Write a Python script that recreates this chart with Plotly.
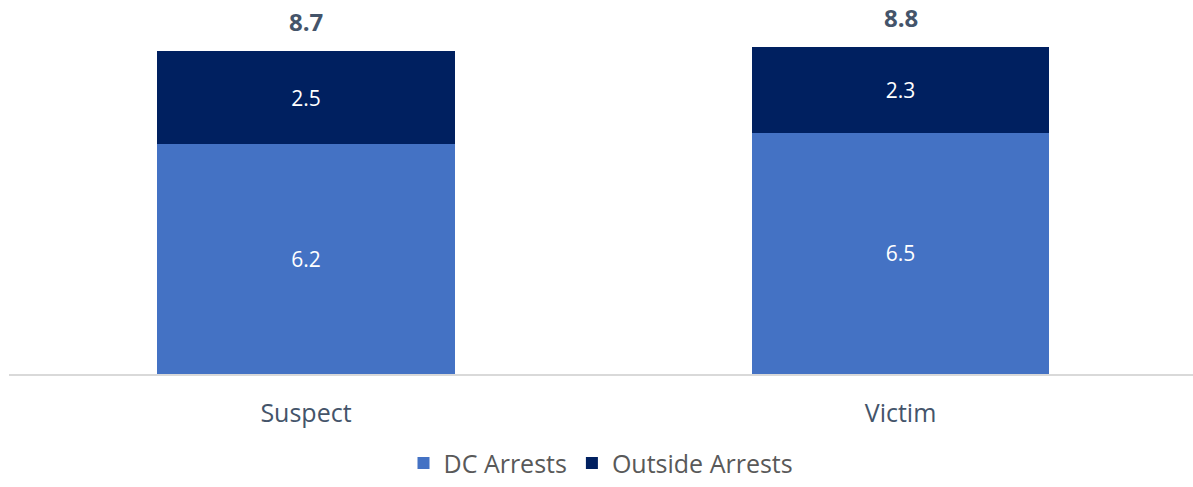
import plotly.graph_objects as go

categories = ["Suspect", "Victim"]
dc_arrests = [6.2, 6.5]
outside_arrests = [2.5, 2.3]
totals = [8.7, 8.8]

FONT = "Open Sans"

fig = go.Figure()
fig.add_trace(go.Bar(
    x=categories, y=dc_arrests, name="DC Arrests",
    marker=dict(color="#4472C4", line=dict(width=0)),
    text=[f"{v:.1f}" for v in dc_arrests], textposition="inside",
    insidetextanchor="middle", textangle=0,
    textfont=dict(color="white", size=21, family=FONT),
))
fig.add_trace(go.Bar(
    x=categories, y=outside_arrests, name="Outside Arrests",
    marker=dict(color="#002060", line=dict(width=0)),
    text=[f"{v:.1f}" for v in outside_arrests], textposition="inside",
    insidetextanchor="middle", textangle=0,
    textfont=dict(color="white", size=21, family=FONT),
))

for c, t in zip(categories, totals):
    fig.add_annotation(x=c, y=t, text=f"<b>{t:.1f}</b>", showarrow=False,
                       yanchor="bottom", yshift=11,
                       font=dict(size=24, color="#44546A", family=FONT))

fig.update_layout(
    width=1193, height=487,
    barmode="stack", bargap=0.5,
    margin=dict(l=9, r=0, t=17, b=113),
    plot_bgcolor="white", paper_bgcolor="white",
    showlegend=True,
    legend=dict(orientation="h", x=0.5, xanchor="center", y=-0.25, yanchor="middle",
                font=dict(size=25, color="#595959", family=FONT),
                traceorder="normal", itemwidth=30),
    xaxis=dict(showline=True, linecolor="#D9D9D9", linewidth=2, ticks="",
               range=[-0.4996, 1.492],
               tickfont=dict(size=25, color="#44546A", family=FONT),
               ticklabelstandoff=16),
    yaxis=dict(range=[0, 9.62], visible=False, showgrid=False, zeroline=False),
)

fig.write_html("out.html")
